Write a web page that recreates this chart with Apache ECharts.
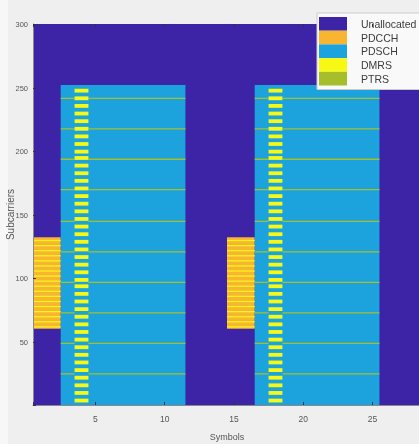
<!DOCTYPE html>
<html><head><meta charset="utf-8">
<script src="https://cdn.jsdelivr.net/npm/echarts@6/dist/echarts.min.js"></script>
<style>html,body{margin:0;padding:0;background:#efefef;overflow:hidden}#c{width:419px;height:444px;filter:blur(0.45px)}</style>
</head><body><div id="c"></div><script>
// Resource grid: 28 OFDM symbols x 300 subcarriers
const nSymbols = 28;
const nSubcarriers = 300;
const categories = ['Unallocated', 'PDCCH', 'PDSCH', 'DMRS', 'PTRS'];
const xTicks = [5, 10, 15, 20, 25];
const yTicks = [50, 100, 150, 200, 250, 300];

// Each region: [firstSymbol, lastSymbol, firstSubcarrier, lastSubcarrier]
const unallocatedRegions = [[1, 28, 1, 300]];
const pdcchRegions = [[1, 2, 61, 132], [15, 16, 61, 132]];
const pdschRegions = [[3, 11, 1, 252], [17, 25, 1, 252]];

// DMRS
const pdschDmrsSymbols = [4, 18];
const pdschDmrsCenters = [4, 10, 16, 22, 28, 34, 40, 46, 52, 58, 64, 70, 76, 82, 88, 94, 99, 105, 111, 117, 123, 129,
  135, 141, 147, 153, 159, 165, 171, 177, 183, 189, 195, 200, 206, 212, 218, 224, 230, 236, 242, 248];
const pdcchDmrsSymbolRuns = [[1, 2], [15, 16]];
const pdcchDmrsSubcarriers = [62, 66, 70, 74, 78, 82, 86, 90, 94, 98, 102, 106, 110, 114, 118, 122, 126, 130];

// PTRS
const ptrsSymbolRuns = [[3, 3], [5, 11], [17, 17], [19, 25]];
const ptrsSubcarriers = [25, 49, 73, 97, 121, 145, 170, 194, 218, 242];

const colors = {
  Unallocated: '#3d24a6',
  PDCCH: '#f7b532',
  PDSCH: '#1ca3dd',
  DMRS: '#f7f915',
  PTRS: '#a6be2b'
};

// Build rectangles from the arrays
const dmrsRects = [];
pdschDmrsSymbols.forEach(s => pdschDmrsCenters.forEach(c => dmrsRects.push([s, s, c - 1, c + 1])));
pdcchDmrsSymbolRuns.forEach(r => pdcchDmrsSubcarriers.forEach(k => dmrsRects.push([r[0], r[1], k, k])));
const ptrsRects = [];
ptrsSymbolRuns.forEach(r => ptrsSubcarriers.forEach(k => ptrsRects.push([r[0], r[1], k, k])));

function rectSeries(name, rects) {
  return {
    type: 'custom', name: name, coordinateSystem: 'cartesian2d',
    xAxisIndex: 0, yAxisIndex: 0, silent: true, clip: true,
    itemStyle: { color: colors[name] },
    encode: { x: [0, 1], y: [2, 3] },
    data: rects,
    renderItem: function (params, api) {
      const p0 = api.coord([api.value(0) - 0.5, api.value(3) + 0.5]);
      const p1 = api.coord([api.value(1) + 0.5, api.value(2) - 0.5]);
      return {
        type: 'rect',
        shape: { x: p0[0], y: p0[1], width: p1[0] - p0[0], height: p1[1] - p0[1] },
        style: { fill: colors[name] }
      };
    }
  };
}

const labelFont = "'Liberation Sans',Arial,sans-serif";
const chart = echarts.init(document.getElementById('c'), null, { renderer: 'svg' });
chart.setOption({
  backgroundColor: '#efefef',
  animation: false,
  graphic: [{ type: 'rect', left: 0, top: 0, shape: { width: 8, height: 444 }, style: { fill: '#f7f7f7' }, z: -1 }],
  grid: { left: 33, top: 24, width: 388, height: 381, containLabel: false, outerBoundsMode: 'none' },
  legend: {
    orient: 'vertical', left: 317, top: 13,
    itemWidth: 28, itemHeight: 13.7, itemGap: 0, icon: 'rect',
    padding: [4, 40, 4, 2],
    backgroundColor: '#f9f9f9', borderColor: '#cccccc', borderWidth: 1,
    textStyle: { fontSize: 10.5, color: '#3c3c3c', fontFamily: 'Liberation Sans, Arial, sans-serif', padding: [0, 0, 0, 9] },
    data: categories,
    selectedMode: false
  },
  xAxis: [{
    type: 'value', min: 0.5, max: nSymbols + 0.5, splitNumber: 5, z: 10,
    name: 'Symbols', nameLocation: 'middle', nameGap: 27, nameMoveOverlap: false,
    nameTextStyle: { fontSize: 9, color: '#555', fontFamily: labelFont },
    splitLine: { show: false },
    axisLine: { show: true, lineStyle: { color: '#8a8a8a', width: 1 } },
    axisTick: { inside: true, length: 3, lineStyle: { color: '#333' } },
    axisLabel: {
      fontSize: 8.5, color: '#555', margin: 9, fontFamily: labelFont,
      formatter: v => (xTicks.indexOf(v) >= 0 ? String(v) : '')
    }
  }, {
    type: 'value', position: 'top', min: 0.5, max: nSymbols + 0.5, splitNumber: 5, z: 10,
    splitLine: { show: false }, axisLine: { show: false },
    axisTick: { inside: true, length: 3, lineStyle: { color: '#333' } },
    axisLabel: { show: false }
  }],
  yAxis: {
    type: 'value', min: 0.5, max: nSubcarriers + 0.5, splitNumber: 6, z: 10,
    name: 'Subcarriers', nameLocation: 'middle', nameGap: 18, nameMoveOverlap: false,
    nameTextStyle: { fontSize: 10, color: '#555', fontFamily: labelFont },
    splitLine: { show: false },
    axisLine: { show: true, lineStyle: { color: '#8a8a8a', width: 1 } },
    axisTick: { inside: true, length: 3, lineStyle: { color: '#333' } },
    axisLabel: {
      fontSize: 7.5, color: '#555', margin: 5, fontFamily: labelFont,
      formatter: v => (yTicks.indexOf(v) >= 0 ? String(v) : '')
    }
  },
  series: [
    rectSeries('Unallocated', unallocatedRegions),
    rectSeries('PDCCH', pdcchRegions),
    rectSeries('PDSCH', pdschRegions),
    rectSeries('PTRS', ptrsRects),
    rectSeries('DMRS', dmrsRects)
  ]
});
</script></body></html>
